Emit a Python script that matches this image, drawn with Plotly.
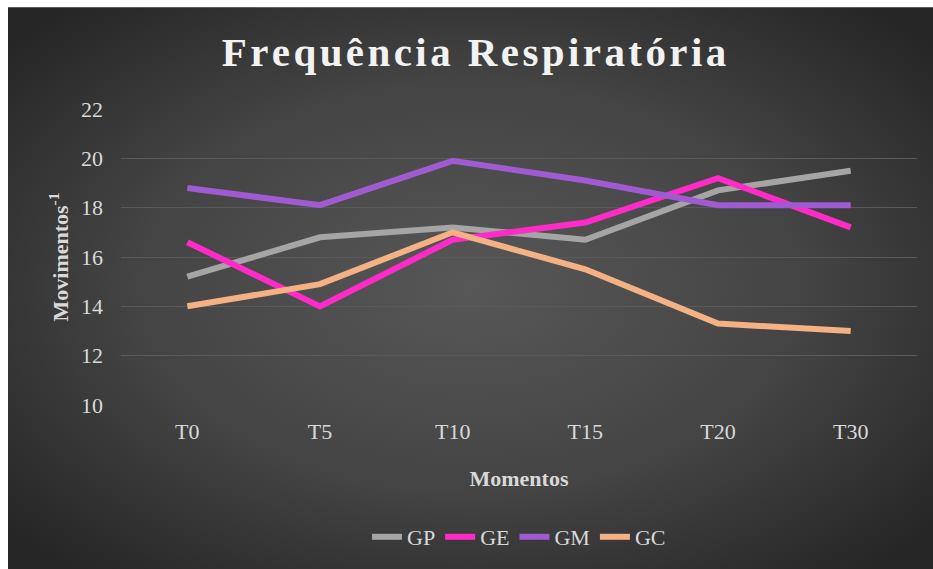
import base64
import plotly.graph_objects as go

categories = ["T0", "T5", "T10", "T15", "T20", "T30"]
gp = [15.2, 16.8, 17.2, 16.7, 18.7, 19.5]
ge = [16.6, 14.0, 16.7, 17.4, 19.2, 17.2]
gm = [18.8, 18.1, 19.9, 19.1, 18.1, 18.1]
gc = [14.0, 14.9, 17.0, 15.5, 13.3, 13.0]
y_ticks = [10, 12, 14, 16, 18, 20, 22]

series = [("GP", gp, "#a5a5a5"), ("GE", ge, "#ff2bc8"),
          ("GM", gm, "#a05ad2"), ("GC", gc, "#f4b183")]

W, H = 933, 569
ML, MR, MT, MB = 121, 16, 109, 163
BX, BY = 8, 7  # top-left of the dark chart panel
EXT = 20       # extend panel past the right/bottom edges

svg = '''<svg xmlns="http://www.w3.org/2000/svg" width="945" height="582" viewBox="0 0 945 582" preserveAspectRatio="none">
<defs><radialGradient id="g" cx="0.489" cy="0.483" r="0.64">
<stop offset="0%" stop-color="#575757"/>
<stop offset="55%" stop-color="#444444"/>
<stop offset="100%" stop-color="#262626"/>
</radialGradient></defs>
<rect x="0" y="0" width="945" height="582" fill="url(#g)"/>
</svg>'''
src = "data:image/svg+xml;base64," + base64.b64encode(svg.encode()).decode()

pw = W - ML - MR
ph = H - MT - MB
x0 = (BX - ML) / pw
x1 = (W + EXT - ML) / pw
ytop = (H - MB - BY) / ph
ybot = -(MB + EXT) / ph
pleft = (0 - ML) / pw
pright = (W + EXT - ML) / pw
ptop = (H - MB) / ph

font = "Liberation Serif, Times New Roman, serif"
tick_col = "#d9d9d9"

hs = "\u200a"
title_txt = "Frequência Respiratória"
spaced = (" " + hs + hs).join(hs.join(w) for w in title_txt.split(" "))

fig = go.Figure()
for name, vals, col in series:
    fig.add_trace(go.Scatter(x=categories, y=vals, name=name, mode="lines",
                             line=dict(color=col, width=6)))

fig.update_layout(
    width=W, height=H,
    margin=dict(l=ML, r=MR, t=MT, b=MB),
    paper_bgcolor="#262626",
    plot_bgcolor="rgba(0,0,0,0)",
    images=[dict(source=src, xref="paper", yref="paper", x=x0, y=ytop,
                 sizex=x1 - x0, sizey=ytop - ybot, sizing="stretch",
                 xanchor="left", yanchor="top", layer="below")],
    shapes=[
        dict(type="rect", xref="paper", yref="paper", x0=pleft, x1=pright,
             y0=ytop, y1=ptop + 0.05, fillcolor="white", line=dict(width=0), layer="below"),
        dict(type="rect", xref="paper", yref="paper", x0=pleft - 0.05, x1=x0,
             y0=ybot, y1=ptop + 0.05, fillcolor="white", line=dict(width=0), layer="below"),
    ],
    title=dict(text="<b>" + spaced + "</b>",
               x=474 / W, xanchor="center", y=1 - 52 / H, yanchor="middle",
               font=dict(family=font, size=41, color="#f2f2f2")),
    font=dict(family=font, color=tick_col),
    showlegend=True,
    legend=dict(orientation="h", x=0.5, xanchor="center", y=(ph - (537 - MT)) / ph,
                yanchor="middle", font=dict(family=font, size=22, color=tick_col),
                bgcolor="rgba(0,0,0,0)"),
    xaxis=dict(type="category", range=[-0.5, 5.5], showgrid=False, zeroline=False,
               showline=False, ticks="", tickfont=dict(family=font, size=22, color=tick_col),
               ticklabelstandoff=11,
               title=dict(text="<b>Momentos</b>", standoff=27,
                          font=dict(family=font, size=22, color=tick_col))),
    yaxis=dict(range=[10, 22], tickvals=y_ticks, showgrid=True, gridcolor="#5a5a5a",
               gridwidth=1, zeroline=False, showline=False, ticks="",
               tickfont=dict(family=font, size=22, color=tick_col),
               ticklabelstandoff=17,
               title=dict(text="<b>Movimentos<sup>-1</sup></b>", standoff=6,
                          font=dict(family=font, size=22, color=tick_col))),
)

fig.write_html("out.html", config={"displayModeBar": False},
               post_script="document.body.style.margin='0';"
                           "document.body.style.background='#262626';"
                           "document.documentElement.style.background='#262626';")
